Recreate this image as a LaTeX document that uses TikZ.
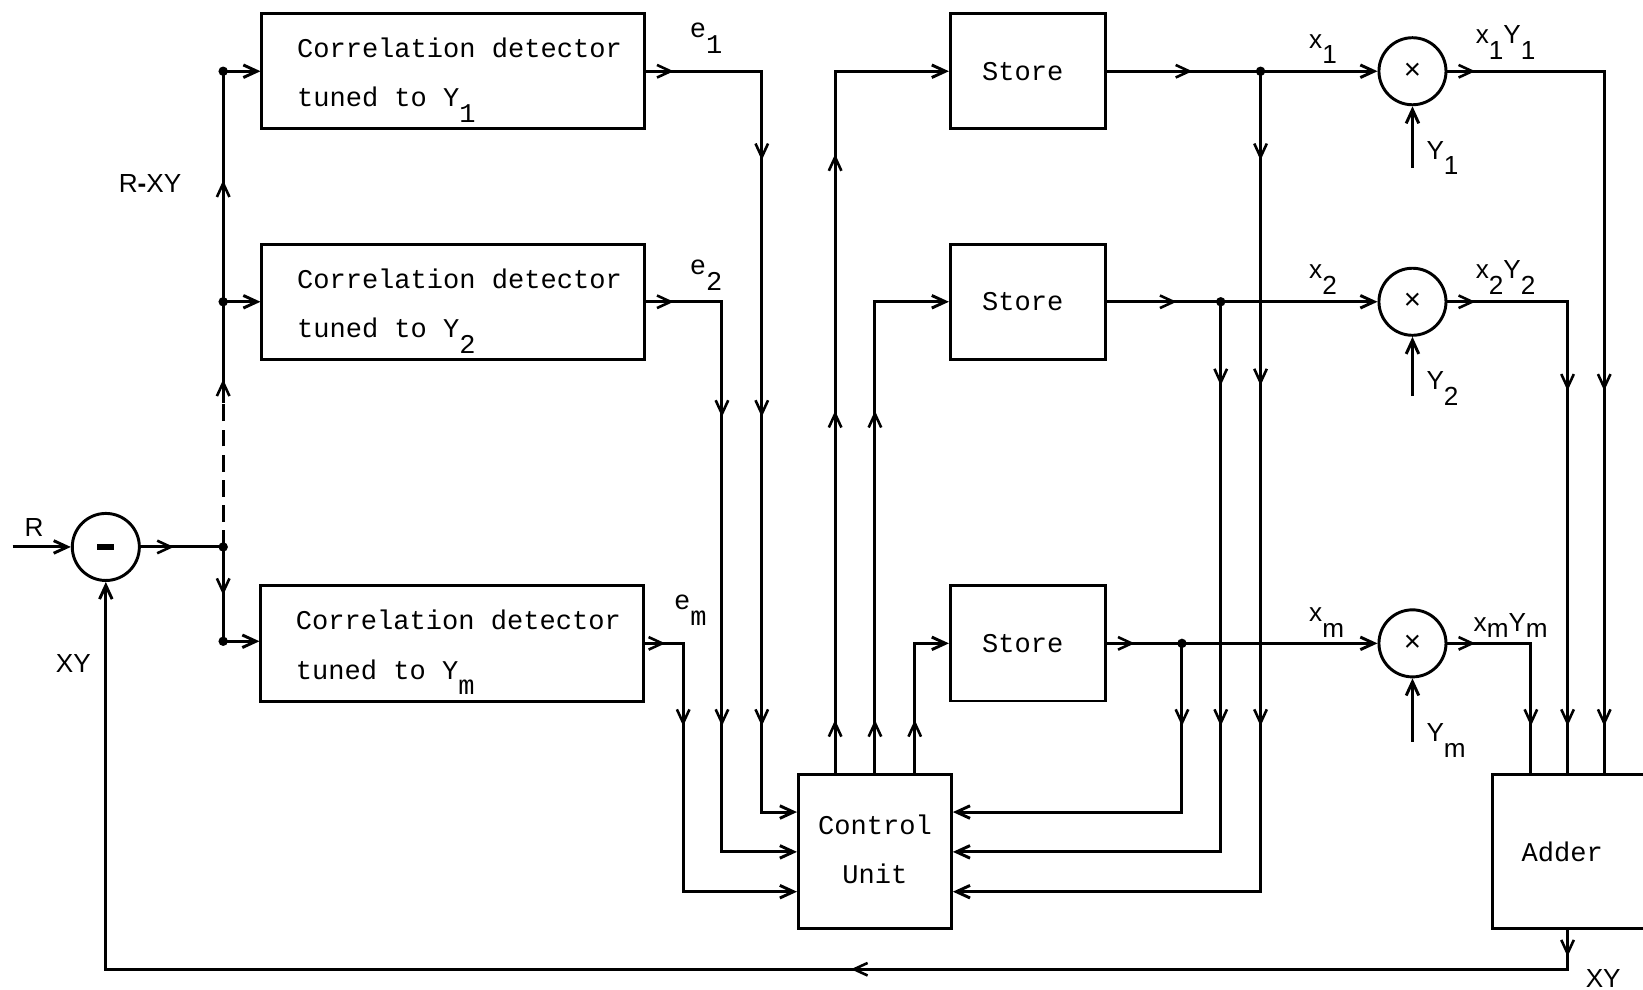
\documentclass[tikz,border=0pt]{standalone}
\usepackage{fontspec}
\setmainfont{Liberation Sans}
\newfontfamily\plotfont{Liberation Mono}
\usetikzlibrary{arrows.meta}
\newcommand{\lo}[1]{\raisebox{-1.5mm}{#1}}
\newcommand{\marr}[3]{\draw[barb,shift={(#1,#2)},rotate=#3] (-13,6)--(0,0)--(-13,-6);}
\begin{document}
\begin{tikzpicture}[x=0.1mm,y=-0.1mm,line width=0.8pt,
  >={Straight Barb[length=1.3mm,width=1.2mm]},
  barb/.style={line width=0.7pt},
  blk/.style={draw,rectangle,inner sep=0pt,font=\plotfont\fontsize{7.35}{13.4}\selectfont},
  cd/.style={blk,minimum width=36.5mm,minimum height=11mm,align=left},
  st/.style={blk,minimum width=14.8mm,minimum height=11mm},
  op/.style={draw,circle,minimum size=6.4mm,inner sep=0pt,font=\fontsize{8}{9}\selectfont},
  dot/.style={circle,fill,inner sep=0pt,minimum size=0.9mm},
  lab/.style={font=\fontsize{7.1}{9}\selectfont,inner sep=0pt,anchor=base west},
  plab/.style={font=\plotfont\fontsize{7.35}{9}\selectfont,inner sep=0pt,anchor=base west}]
\useasboundingbox (0,0) rectangle (1568,944);

% blocks
\node[op] (sub) at (101,522) {\rule{1.6mm}{0.55mm}};
\node[cd] (cd1) at (432.5,68) {\rule{0pt}{4.2mm}\hspace*{1.2mm}Correlation detector\\\hspace*{1.2mm}tuned to Y\lo{1}\rule[-2.1mm]{0pt}{0pt}};
\node[cd] (cd2) at (432.5,288) {\rule{0pt}{4.2mm}\hspace*{1.2mm}Correlation detector\\\hspace*{1.2mm}tuned to Y\lo{2}\rule[-2.1mm]{0pt}{0pt}};
\node[cd] (cdm) at (431.5,614) {\rule{0pt}{4.2mm}\hspace*{1.2mm}Correlation detector\\\hspace*{1.2mm}tuned to Y\lo{m}\rule[-2.1mm]{0pt}{0pt}};
\node[st] (st1) at (981,68) {Store\hspace*{1mm}};
\node[st] (st2) at (981,288) {Store\hspace*{1mm}};
\node[st] (stm) at (981,614) {Store\hspace*{1mm}};
\node[blk,minimum width=14.6mm,minimum height=14.7mm,align=center] (cu) at (835,813)
  {\rule{0pt}{5.7mm}Control\\Unit\rule[-4.3mm]{0pt}{0pt}};
\node[blk,minimum width=17.6mm,minimum height=14.7mm] (adder) at (1512,813) {Adder\hspace*{4.2mm}};
\node[op] (m1) at (1348,68) {×};
\node[op] (m2) at (1348,288) {×};
\node[op] (mm) at (1348,614) {×};

% junctions
\node[dot] (j0) at (213,522) {};
\node[dot] (ja) at (213,68) {};
\node[dot] (jb) at (213,288) {};
\node[dot] (jc) at (213,612) {};
\node[dot] (k1) at (1203,68) {};
\node[dot] (k2) at (1165,288) {};
\node[dot] (k3) at (1128,614) {};
\coordinate (rin) at (12,522);
\coordinate (jd) at (213,385);
\coordinate (e1c) at (727,68);
\coordinate (e2c) at (689,288);
\coordinate (emc) at (652,614);
\coordinate (y1) at (1348,160);
\coordinate (y2) at (1348,378);
\coordinate (ym) at (1348,708);
\coordinate (a1) at (1531,68);
\coordinate (a2) at (1496,288);
\coordinate (a3) at (1461,614);
\coordinate (ao) at (1496,925);

% connectors
\draw[->] (rin) -- (sub);
\draw (sub) -- (j0.center);
\draw (j0.center) -- (jc.center);
\draw[dash pattern=on 1.6mm off 0.8mm] (j0.center) -- (jd);
\draw (jd) -- (jb.center) -- (ja.center);
\draw[->] (ja.center) -- (ja -| cd1.west);
\draw[->] (jb.center) -- (jb -| cd2.west);
\draw[->] (jc.center) -- (jc -| cdm.west);

\draw[->] (cd1.east) -- (e1c) |- ([yshift=3.8mm]cu.west);
\draw[->] (cd2.east) -- (e2c) |- (cu.west);
\draw[->] (cdm.east) -- (emc) |- ([yshift=-3.8mm]cu.west);

\draw[->] ([xshift=-3.8mm]cu.north) |- (st1.west);
\draw[->] (cu.north) |- (st2.west);
\draw[->] ([xshift=3.8mm]cu.north) |- (stm.west);

\draw[->] (st1.east) -- (m1);
\draw[->] (st2.east) -- (m2);
\draw[->] (stm.east) -- (mm);
\draw[->] (k1.center) |- ([yshift=-3.8mm]cu.east);
\draw[->] (k2.center) |- (cu.east);
\draw[->] (k3.center) |- ([yshift=3.8mm]cu.east);

\draw[->] (y1) -- (m1.south);
\draw[->] (y2) -- (m2.south);
\draw[->] (ym) -- (mm.south);

\draw (m1.east) -- (a1) -- (a1 |- adder.north);
\draw (m2.east) -- (a2) -- (a2 |- adder.north);
\draw (mm.east) -- (a3) -- (a3 |- adder.north);
\draw[->] (adder.south -| ao) -- (ao) -| (sub.south);

% mid-line arrowheads
\marr{163}{522}{0}
\marr{213}{565}{-90}
\marr{213}{365}{90}
\marr{213}{175}{90}
\marr{640}{68}{0}
\marr{640}{288}{0}
\marr{632}{614}{0}
\marr{727}{150}{-90}
\marr{727}{395}{-90}
\marr{727}{690}{-90}
\marr{689}{395}{-90}
\marr{689}{690}{-90}
\marr{652}{690}{-90}
\marr{797}{690}{90}
\marr{797}{395}{90}
\marr{797}{150}{90}
\marr{835}{690}{90}
\marr{835}{395}{90}
\marr{873}{690}{90}
\marr{1135}{68}{0}
\marr{1120}{288}{0}
\marr{1080}{614}{0}
\marr{1203}{150}{-90}
\marr{1203}{365}{-90}
\marr{1203}{690}{-90}
\marr{1165}{365}{-90}
\marr{1165}{690}{-90}
\marr{1128}{690}{-90}
\marr{1405}{68}{0}
\marr{1405}{288}{0}
\marr{1405}{614}{0}
\marr{1531}{370}{-90}
\marr{1531}{690}{-90}
\marr{1496}{370}{-90}
\marr{1496}{690}{-90}
\marr{1461}{690}{-90}
\marr{1496}{910}{-90}
\marr{815}{925}{180}

% labels
\node[lab] (lR) at (22,512) {R};
\node[lab] (lXY) at (52,642) {XY};
\node[lab] (lRXY) at (112,184) {R\textbf{-}XY};
\node[lab] (lXYo) at (1512,942) {XY};
\node[plab] (le1) at (657,36) {e\lo{1}};
\node[plab] (le2) at (657,262) {e\lo{2}};
\node[plab] (lem) at (642,582) {e\lo{m}};
\node[lab] (lx1) at (1248,46) {x\lo{1}};
\node[lab] (lx2) at (1248,266) {x\lo{2}};
\node[lab] (lxm) at (1248,593) {x\lo{m}};
\node[lab] (lp1) at (1407,42) {x\lo{1}Y\lo{1}};
\node[lab] (lp2) at (1407,266) {x\lo{2}Y\lo{2}};
\node[lab] (lpm) at (1405,603) {x\raisebox{-0.5mm}{m}Y\raisebox{-0.5mm}{m}};
\node[lab] (lY1) at (1360,152) {Y\lo{1}};
\node[lab] (lY2) at (1360,372) {Y\lo{2}};
\node[lab] (lYm) at (1360,708) {Y\lo{m}};
\end{tikzpicture}
\end{document}
